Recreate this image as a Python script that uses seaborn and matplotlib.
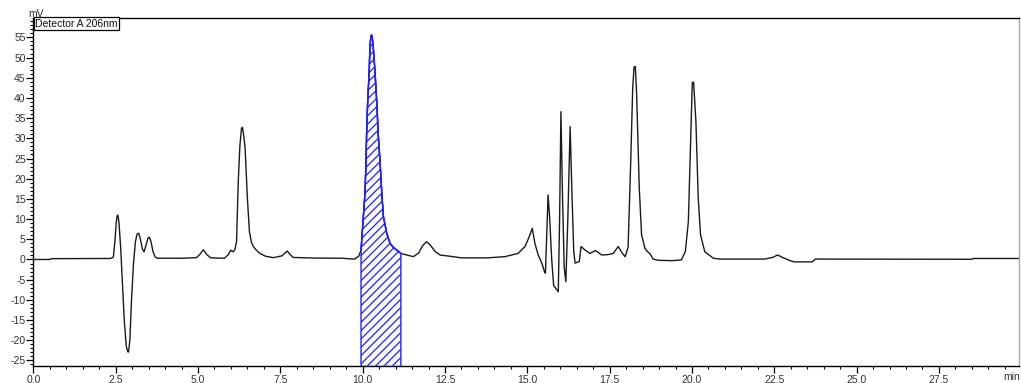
import matplotlib
matplotlib.use("Agg")
import matplotlib.pyplot as plt
from matplotlib.ticker import MultipleLocator, FixedLocator
import seaborn as sns
import pandas as pd

# ---- data (time in min, signal in mV) ----
time_min = [
    0.00, 0.50, 0.55, 2.35, 2.43, 2.48, 2.52, 2.545, 2.56, 2.575, 2.60, 2.65, 2.70, 2.76,
    2.82, 2.87, 2.89, 2.93, 2.98, 3.04, 3.10, 3.15, 3.20, 3.25, 3.31, 3.36, 3.42, 3.48,
    3.52, 3.57, 3.63, 3.70, 3.76, 4.50, 4.95, 5.05, 5.16, 5.27, 5.38, 5.80, 5.92, 5.99,
    6.07, 6.12, 6.17, 6.22, 6.27, 6.32, 6.35, 6.39, 6.43, 6.50, 6.56, 6.62, 6.68, 6.78,
    6.88, 7.05, 7.29, 7.55, 7.71, 7.80, 7.89, 8.50, 9.40, 9.60, 9.75, 9.88, 9.95, 10.02,
    10.07, 10.10, 10.12, 10.15, 10.20, 10.22, 10.25, 10.27, 10.29, 10.32, 10.37, 10.43,
    10.47, 10.53, 10.58, 10.63, 10.73, 10.83, 10.93, 11.03, 11.16, 11.34, 11.54, 11.70,
    11.82, 11.94, 12.05, 12.20, 12.35, 12.65, 13.00, 13.80, 14.32, 14.72, 14.93, 15.05,
    15.15, 15.23, 15.33, 15.44, 15.52, 15.55, 15.59, 15.63, 15.68, 15.74, 15.80, 15.87,
    15.94, 15.98, 16.02, 16.07, 16.12, 16.17, 16.23, 16.30, 16.36, 16.41, 16.45, 16.58,
    16.63, 16.75, 16.90, 17.07, 17.26, 17.45, 17.61, 17.76, 17.88, 17.97, 18.06, 18.14,
    18.20, 18.24, 18.28, 18.32, 18.40, 18.47, 18.57, 18.64, 18.72, 18.82, 18.97, 19.40,
    19.68, 19.80, 19.89, 19.96, 20.01, 20.05, 20.12, 20.19, 20.26, 20.39, 20.65, 20.85,
    22.20, 22.45, 22.60, 22.75, 22.95, 23.10, 23.65, 23.75, 27.30, 28.50, 28.55, 29.93,
]
signal_mv = [
    0.0, 0.0, 0.2, 0.25, 0.6, 5.0, 9.5, 10.8, 11.0, 10.6, 9.0, 3.0, -5.0, -15.0,
    -21.5, -22.9, -22.9, -20.0, -10.0, -1.0, 4.5, 6.3, 6.5, 5.0, 2.6, 1.9, 3.5, 5.3,
    5.5, 4.5, 2.0, 0.6, 0.3, 0.3, 0.45, 1.2, 2.4, 1.2, 0.4, 0.3, 1.2, 2.3,
    1.9, 2.5, 4.4, 19.0, 28.0, 32.5, 32.7, 30.5, 27.5, 15.0, 6.9, 4.3, 3.2, 2.2,
    1.5, 0.8, 0.45, 0.9, 2.1, 1.2, 0.5, 0.35, 0.3, 0.15, 0.1, 0.8, 2.3, 10.6,
    16.4, 23.8, 31.3, 38.7, 47.0, 52.7, 55.2, 55.6, 55.0, 52.7, 47.0, 38.7,
    31.3, 23.8, 16.4, 10.6, 6.5, 4.0, 3.0, 2.35, 1.5, 1.1, 0.7, 1.6,
    3.4, 4.4, 3.6, 2.0, 1.1, 0.8, 0.4, 0.4, 0.7, 1.5, 3.2, 5.5,
    7.7, 4.0, 1.1, -0.9, -3.0, -3.4, 6.0, 16.0, 10.0, 0.0, -6.5, -7.2,
    -8.0, 10.0, 36.6, 15.0, -2.0, -5.5, 10.0, 32.9, 15.0, 2.0, -0.9, -0.5,
    3.2, 2.35, 1.5, 2.2, 1.1, 1.2, 1.5, 3.2, 1.6, 0.7, 3.0, 24.2,
    42.4, 47.6, 47.8, 40.8, 17.6, 6.1, 2.8, 2.0, 1.5, 0.1, -0.2, -0.3,
    -0.1, 2.0, 9.4, 30.0, 43.8, 43.9, 34.1, 15.2, 6.1, 1.9, 0.3, 0.1,
    0.1, 0.5, 1.1, 0.5, -0.2, -0.6, -0.6, 0.1, 0.05, 0.05, 0.25, 0.25,
]
peak_start, peak_end = 9.95, 11.16
legend_text = "Detector A 206nm"
x_ticks = [0.0, 2.5, 5.0, 7.5, 10.0, 12.5, 15.0, 17.5, 20.0, 22.5, 25.0, 27.5]
y_ticks = [-25, -20, -15, -10, -5, 0, 5, 10, 15, 20, 25, 30, 35, 40, 45, 50, 55]

df = pd.DataFrame({"t": time_min, "mV": signal_mv})

sns.set_style("ticks")
plt.rcParams["font.family"] = ["Liberation Sans", "DejaVu Sans"]
plt.rcParams["hatch.linewidth"] = 0.9

fig = plt.figure(figsize=(10.21, 3.83), dpi=100)
ax = fig.add_axes([0.0327, 0.0431, 0.9653, 0.910])

sns.lineplot(data=df, x="t", y="mV", ax=ax, color="#1a1a1a", linewidth=1.0,
             estimator=None, sort=False)

ylo, yhi = -26.5, 59.8
seg = df[(df["t"] >= peak_start) & (df["t"] <= peak_end)]
ax.fill_between(seg["t"], seg["mV"], ylo, facecolor="none", edgecolor="#1f1fff",
                hatch="////", linewidth=1.0, zorder=3)
ax.plot(seg["t"], seg["mV"], color="#1f1fff", linewidth=1.0, zorder=4)

ax.set_xlim(0, 29.93)
ax.set_ylim(ylo, yhi)
ax.set_xlabel("")
ax.set_ylabel("")

ax.xaxis.set_major_locator(FixedLocator(x_ticks))
ax.xaxis.set_minor_locator(MultipleLocator(0.5))
ax.yaxis.set_major_locator(FixedLocator(y_ticks))
ax.yaxis.set_minor_locator(MultipleLocator(1))
ax.set_xticklabels([f"{v:.1f}" for v in x_ticks])
ax.set_yticklabels([str(v) for v in y_ticks])

ax.tick_params(axis="both", which="major", direction="out", length=5, width=0.9,
               color="black", labelsize=7.5, labelcolor="#333333")
ax.tick_params(axis="both", which="minor", direction="out", length=2.5, width=0.8,
               color="black")
ax.tick_params(axis="y", which="major", pad=0.5)
ax.tick_params(axis="x", which="major", pad=1.0)

for side in ["left", "bottom", "top"]:
    ax.spines[side].set_visible(True)
    ax.spines[side].set_color("black")
    ax.spines[side].set_linewidth(1.0)
ax.spines["right"].set_visible(True)
ax.spines["right"].set_color("#a8a8a8")
ax.spines["right"].set_linewidth(1.0)

ax.text(0.0015, 0.998, legend_text, transform=ax.transAxes, ha="left", va="top",
        fontsize=7.5, color="#111111",
        bbox=dict(boxstyle="square,pad=0.12", facecolor="white", edgecolor="black",
                  linewidth=0.9), zorder=6)

fig.text(36 / 1021, 1 - 14 / 383, "mV", ha="center", va="center", fontsize=7.5,
         color="#333333", zorder=7)
fig.text(1012 / 1021, 1 - 377 / 383, "min", ha="center", va="center", fontsize=7.5,
         color="#333333")

fig.savefig("out.png", dpi=100)
